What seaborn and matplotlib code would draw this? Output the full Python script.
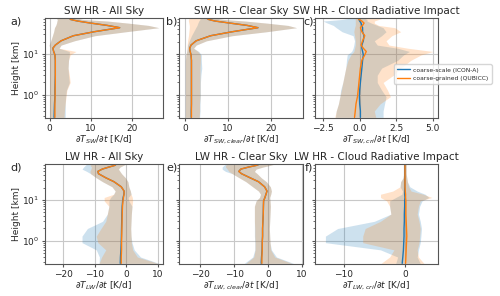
import numpy as np
import pandas as pd
import matplotlib
matplotlib.use("Agg")
import matplotlib.pyplot as plt
import seaborn as sns

# ---------------- Data ----------------
heights = [0.28, 0.4, 0.6, 0.9, 1.3, 2, 3, 4.5, 7, 9.5, 11.5, 13.8, 16.5, 21, 28, 35, 44, 50, 57, 64, 70, 76]

# SW all sky
a_icon_mean = [1.1, 1.15, 1.2, 1.3, 1.3, 1.35, 1.4, 1.4, 1.4, 1.3, 1.0, 0.8, 1.4, 2.8, 5.8, 10.8, 17.0, 14.0, 10.0, 6.8, 5.1, 4.8]
a_icon_lo = [0.0, 0.0, 0.0, 0.0, 0.0, 0.0, 0.0, 0.0, 0.0, 0.0, 0.0, 0.1, -0.1, 0.3, 0.7, 1.0, 1.2, 1.5, 1.7, 1.8, 1.9, 1.6]
a_icon_hi = [3.8, 3.8, 3.8, 3.9, 4.1, 4.8, 4.6, 4.5, 4.6, 4.8, 4.8, 2.3, 2.8, 6.0, 11.0, 18.5, 26.5, 24.0, 19.0, 14.0, 8.0, 6.5]
a_qub_mean = [1.3, 1.3, 1.3, 1.35, 1.35, 1.4, 1.4, 1.4, 1.4, 1.3, 1.0, 0.8, 1.4, 2.8, 5.8, 10.8, 17.0, 14.0, 10.0, 6.8, 5.1, 4.8]
a_qub_lo = [0.0, 0.0, 0.0, 0.0, 0.0, 0.0, 0.0, 0.0, 0.0, 0.0, 0.0, 0.1, -0.1, 0.3, 0.7, 1.0, 1.2, 1.5, 1.7, 1.8, 1.9, 1.6]
a_qub_hi = [3.5, 3.6, 3.8, 4.0, 4.2, 5.0, 4.8, 4.5, 4.6, 5.0, 6.4, 2.3, 2.8, 6.0, 11.0, 18.5, 26.5, 24.0, 19.0, 14.0, 8.0, 6.5]

# SW clear sky
b_icon_mean = [1.45, 1.45, 1.5, 1.5, 1.5, 1.5, 1.5, 1.5, 1.5, 1.4, 1.2, 1.1, 1.4, 2.6, 6.0, 11.0, 17.0, 14.5, 10.5, 7.0, 5.5, 5.0]
b_icon_lo = [0.1, 0.1, 0.1, 0.1, 0.1, 0.1, 0.1, 0.1, 0.1, 0.2, 0.4, 0.5, 0.6, 1.0, 1.5, 2.0, 2.5, 2.8, 3.0, 3.2, 3.5, 3.5]
b_icon_hi = [3.4, 3.5, 3.5, 3.6, 3.6, 3.6, 3.7, 3.9, 3.8, 3.8, 3.2, 2.0, 2.6, 5.0, 11.0, 19.0, 26.0, 24.0, 19.0, 14.0, 9.0, 7.0]
b_qub_mean = [1.5, 1.5, 1.5, 1.5, 1.5, 1.5, 1.5, 1.5, 1.5, 1.4, 1.2, 1.1, 1.4, 2.6, 6.0, 11.0, 17.0, 14.5, 10.5, 7.0, 5.5, 5.0]
b_qub_lo = [0.1, 0.1, 0.1, 0.1, 0.1, 0.1, 0.1, 0.1, 0.1, 0.2, 0.4, 0.5, 0.5, 0.6, 0.8, 0.9, 1.0, 1.0, 0.9, 0.8, 0.8, 1.0]
b_qub_hi = [3.3, 3.4, 3.4, 3.5, 3.5, 3.5, 3.5, 3.5, 3.6, 3.6, 3.0, 2.0, 2.6, 5.0, 11.0, 19.0, 26.0, 24.0, 19.0, 14.0, 9.0, 7.0]

# SW cloud radiative impact
c_icon_mean = [0.05, 0.05, 0.0, -0.02, 0.0, 0.05, 0.1, 0.15, 0.2, 0.25, 0.2, 0.15, 0.15, 0.25, 0.3, 0.2, 0.2, 0.15, 0.1, 0.0, -0.05, -0.1]
c_icon_lo = [-1.65, -1.6, -1.45, -1.35, -1.3, -1.15, -1.05, -0.95, -0.9, -0.85, -0.55, -0.45, -0.4, -0.35, -0.45, -1.2, -1.6, -1.8, -2.2, -2.5, -1.2, -0.6]
c_icon_hi = [1.6, 1.6, 1.7, 1.8, 1.5, 1.2, 1.2, 1.5, 2.6, 3.0, 3.4, 2.6, 1.2, 1.0, 1.5, 1.8, 1.6, 1.2, 0.8, 0.5, 0.5, 0.3]
c_qub_mean = [-0.35, -0.3, -0.25, -0.15, -0.1, -0.05, 0.0, 0.05, 0.15, 0.35, 0.45, 0.25, 0.1, 0.2, 0.35, 0.15, 0.05, 0.2, 0.3, 0.15, -0.05, -0.1]
c_qub_lo = [-1.7, -1.6, -1.45, -1.35, -1.25, -1.15, -1.05, -0.95, -0.8, -0.6, -0.4, -0.35, -0.3, -0.3, -0.35, -0.4, -0.35, -0.3, -0.3, -0.3, -0.3, -0.3]
c_qub_hi = [1.1, 1.0, 1.4, 2.1, 1.9, 1.6, 2.3, 2.8, 3.5, 4.2, 5.0, 3.3, 2.0, 1.8, 2.2, 2.8, 2.4, 1.3, 1.0, 1.0, 1.3, 1.6]

# LW all sky
d_icon_mean = [-1.9, -1.85, -1.7, -1.6, -1.55, -1.5, -1.45, -1.4, -1.3, -1.15, -1.0, -0.75, -0.7, -1.6, -3.9, -6.5, -8.8, -9.0, -7.6, -5.5, -3.7, -3.1]
d_icon_lo = [-8.6, -8.5, -9.5, -14.0, -14.0, -12.3, -7.5, -6.0, -5.5, -5.5, -5.0, -4.0, -3.5, -4.5, -7.5, -9.5, -11.3, -12.5, -14.0, -13.5, -13.0, -12.5]
d_icon_hi = [10.3, 4.5, 2.5, 1.8, 1.5, 1.4, 1.5, 1.6, 1.8, 0.8, 0.6, 1.5, 1.3, 0.8, 0.5, -0.3, -1.5, -2.0, -2.5, -2.0, -1.0, 0.0]
d_qub_mean = [-1.6, -1.6, -1.5, -1.5, -1.45, -1.4, -1.35, -1.3, -1.2, -1.05, -0.9, -0.7, -0.7, -1.6, -3.9, -6.5, -8.8, -9.0, -7.6, -5.5, -3.7, -3.1]
d_qub_lo = [-8.6, -7.8, -6.5, -9.0, -9.5, -8.0, -6.5, -6.0, -5.5, -7.0, -7.0, -4.0, -3.5, -4.5, -7.5, -9.5, -11.3, -11.5, -11.2, -11.0, -11.5, -11.0]
d_qub_hi = [10.0, 3.5, 2.0, 1.6, 1.5, 1.4, 1.5, 1.6, 1.8, 2.0, 1.9, 1.5, 1.3, 0.8, 0.5, -0.3, -1.5, -2.0, -2.5, -2.0, -1.0, 0.0]

# LW clear sky
e_icon_mean = [-2.0, -1.9, -1.75, -1.7, -1.6, -1.6, -1.5, -1.4, -1.35, -1.3, -0.9, -0.6, -0.3, -1.0, -2.8, -5.3, -7.8, -8.6, -8.0, -5.7, -3.5, -2.4]
e_icon_lo = [-7.0, -4.5, -3.9, -3.9, -4.0, -4.0, -4.0, -4.0, -4.0, -3.5, -2.5, -2.2, -2.8, -4.5, -6.5, -8.5, -10.5, -12.5, -13.5, -13.5, -13.0, -12.5]
e_icon_hi = [7.5, 2.5, 1.0, 0.6, 0.5, 0.4, 0.5, 0.6, 0.7, 0.6, 0.5, 0.8, 1.0, 0.7, -0.5, -2.0, -3.2, -4.0, -3.5, -1.5, 0.5, 2.0]
e_qub_mean = [-1.8, -1.8, -1.7, -1.7, -1.6, -1.6, -1.5, -1.4, -1.35, -1.3, -0.9, -0.6, -0.3, -1.0, -2.8, -5.3, -7.8, -8.6, -8.0, -5.7, -3.5, -2.4]
e_qub_lo = [-6.5, -4.2, -3.8, -3.8, -3.9, -3.9, -4.0, -4.0, -4.0, -3.5, -2.5, -2.2, -2.8, -4.5, -6.5, -8.5, -10.5, -11.5, -12.0, -12.5, -12.5, -12.0]
e_qub_hi = [7.0, 2.0, 0.8, 0.6, 0.5, 0.4, 0.5, 0.6, 0.7, 0.6, 0.5, 0.8, 1.0, 0.7, -0.5, -2.0, -3.2, -4.0, -3.5, -1.5, 0.5, 2.0]

# LW cloud radiative impact
f_icon_mean = [-0.45, -0.35, -0.25, -0.2, -0.15, -0.15, -0.1, -0.1, -0.05, -0.05, 0.0, -0.05, -0.05, -0.05, -0.05, -0.05, -0.05, -0.05, -0.05, -0.05, -0.05, -0.05]
f_icon_lo = [-1.5, -1.2, -4.0, -13.0, -13.0, -11.0, -5.0, -2.3, -2.5, -2.5, -1.5, -0.5, -0.4, -0.8, -0.7, -0.3, -0.2, -0.2, -0.2, -0.2, -0.2, -0.2]
f_icon_hi = [2.5, 2.0, 2.2, 2.5, 2.6, 2.7, 2.5, 2.2, 2.4, 2.8, 3.9, 3.3, 2.0, 0.8, 0.4, 0.3, 0.2, 0.2, 0.2, 0.2, 0.2, 0.2]
f_qub_mean = [0.1, 0.15, 0.2, 0.25, 0.3, 0.25, 0.2, 0.15, 0.15, 0.15, 0.1, 0.1, 0.05, 0.0, 0.0, 0.0, 0.0, 0.0, 0.0, 0.0, 0.0, 0.0]
f_qub_lo = [-3.9, -2.5, -1.8, -6.9, -6.9, -6.5, -4.0, -2.3, -2.5, -3.0, -4.0, -4.0, -2.0, -0.8, -0.7, -0.3, -0.2, -0.2, -0.2, -0.2, -0.2, -0.2]
f_qub_hi = [3.1, 2.2, 2.0, 2.3, 2.4, 2.5, 2.3, 2.0, 2.2, 2.5, 4.4, 3.0, 1.0, 0.6, 0.4, 0.3, 0.2, 0.2, 0.2, 0.2, 0.2, 0.2]

titles = ["SW HR - All Sky", "SW HR - Clear Sky", "SW HR - Cloud Radiative Impact",
          "LW HR - All Sky", "LW HR - Clear Sky", "LW HR - Cloud Radiative Impact"]
xlabels = [r"$\partial T_{SW}/\partial t$ [K/d]", r"$\partial T_{SW,clear}/\partial t$ [K/d]",
           r"$\partial T_{SW,cri}/\partial t$ [K/d]", r"$\partial T_{LW}/\partial t$ [K/d]",
           r"$\partial T_{LW,clear}/\partial t$ [K/d]", r"$\partial T_{LW,cri}/\partial t$ [K/d]"]
letters = ["a)", "b)", "c)", "d)", "e)", "f)"]
xlims = [(-1.1, 27.5), (-1.4, 27.5), (-3.05, 5.35), (-25.7, 11.6), (-26.2, 10.3), (-14.7, 5.4)]

panels = [
    (a_icon_mean, a_icon_lo, a_icon_hi, a_qub_mean, a_qub_lo, a_qub_hi),
    (b_icon_mean, b_icon_lo, b_icon_hi, b_qub_mean, b_qub_lo, b_qub_hi),
    (c_icon_mean, c_icon_lo, c_icon_hi, c_qub_mean, c_qub_lo, c_qub_hi),
    (d_icon_mean, d_icon_lo, d_icon_hi, d_qub_mean, d_qub_lo, d_qub_hi),
    (e_icon_mean, e_icon_lo, e_icon_hi, e_qub_mean, e_qub_lo, e_qub_hi),
    (f_icon_mean, f_icon_lo, f_icon_hi, f_qub_mean, f_qub_lo, f_qub_hi),
]

# ---------------- Plot ----------------
sns.set_style("ticks", {"axes.grid": True, "grid.color": "#c8c8c8"})
plt.rcParams["font.family"] = ["DejaVu Sans"]

fig = plt.figure(figsize=(5, 2.96), dpi=100)
W, H = 500, 296
boxes = [(45, 18, 118), (179, 18, 124), (315, 18, 123),
         (45, 164, 118), (179, 164, 124), (315, 164, 123)]
label_pos = [(16, 22), (172, 22), (309, 22), (16, 168), (172, 168), (309, 168)]
blue, orange = "#1f77b4", "#ff7f0e"

for i, (icon_m, icon_lo, icon_hi, qub_m, qub_lo, qub_hi) in enumerate(panels):
    x0, y0, w = boxes[i]
    ax = fig.add_axes([x0 / W, 1 - (y0 + 100) / H, w / W, 100 / H])
    ax.fill_betweenx(heights, icon_lo, icon_hi, color=blue, alpha=0.22, lw=0)
    ax.fill_betweenx(heights, qub_lo, qub_hi, color=orange, alpha=0.22, lw=0)
    sns.lineplot(x=icon_m, y=heights, orient="y", sort=False, color=blue, lw=1.0,
                 ax=ax, label="coarse-scale (ICON-A)", legend=False)
    sns.lineplot(x=qub_m, y=heights, orient="y", sort=False, color=orange, lw=1.0,
                 ax=ax, label="coarse-grained (QUBICC)", legend=False)
    ax.set_yscale("log")
    ax.set_ylim(0.27, 76)
    ax.set_xlim(*xlims[i])
    ax.grid(True, which="major", color="#c8c8c8", lw=0.8)
    for sp in ax.spines.values():
        sp.set_color("#555555")
    ax.set_title(titles[i], fontsize=7.5, pad=3)
    ax.set_xlabel(xlabels[i], fontsize=6.5, labelpad=1)
    ax.tick_params(labelsize=6.5, length=2.5, pad=1.5, color="#555555")
    ax.tick_params(which="minor", length=1.5, color="#555555")
    if i % 3 == 0:
        ax.set_ylabel("Height [km]", fontsize=6.5, labelpad=1)
    else:
        ax.set_ylabel("")
        ax.tick_params(axis="y", which="both", labelleft=False)
    fig.text(label_pos[i][0] / W, 1 - label_pos[i][1] / H, letters[i], fontsize=8,
             ha="center", va="center")
    if i == 2:
        ax.legend(loc="center left", bbox_to_anchor=(0.64, 0.44), fontsize=4.3,
                  borderaxespad=0, handlelength=2.2, handletextpad=0.6,
                  borderpad=0.5, framealpha=0.8)

fig.savefig("out.png", dpi=100)
